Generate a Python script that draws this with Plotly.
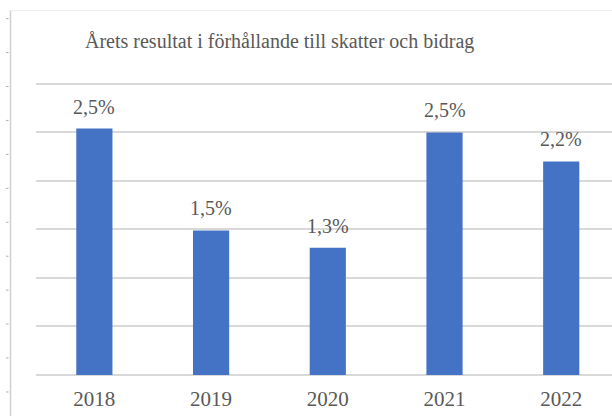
import plotly.graph_objects as go

# Result relative to tax revenue and grants, per year (percent)
years = ["2018", "2019", "2020", "2021", "2022"]
values = [2.54, 1.49, 1.31, 2.5, 2.2]
title_text = "Årets resultat i förhållande till skatter och bidrag"

BAR_COLOR = "#4472C4"
TEXT_COLOR = "#595959"
GRID_COLOR = "#D9D9D9"
FONT = "Liberation Serif, Times New Roman, serif"

W, H = 612, 416
ML, MR, MT, MB = 36, 0, 78.5, 41
PW, PH = W - ML - MR, H - MT - MB


def px_x(px):
    """Figure pixel column -> paper x (paper spans the plot area)."""
    return (px - ML) / PW


def px_y(py):
    """Figure pixel row (from top) -> paper y."""
    return (H - MB - py) / PH


fig = go.Figure()
fig.add_trace(go.Bar(
    x=list(range(len(years))),
    y=values,
    marker=dict(color=BAR_COLOR, line=dict(width=0)),
    width=0.31,
    hoverinfo="skip",
))

# value labels above each bar
for i, v in enumerate(values):
    fig.add_annotation(
        x=i, y=v, xref="x", yref="y",
        text=f"{v:.1f}%".replace(".", ","),
        showarrow=False, yanchor="bottom", yshift=9,
        font=dict(family=FONT, size=20, color=TEXT_COLOR),
    )

# chart title
fig.add_annotation(
    x=px_x(279.5), y=px_y(41), xref="paper", yref="paper",
    text=title_text, showarrow=False, xanchor="center", yanchor="middle",
    font=dict(family=FONT, size=20, color=TEXT_COLOR),
)

# frame of the chart box
fig.add_shape(type="line", xref="paper", yref="paper",
              x0=px_x(10.5), x1=px_x(10.5), y0=px_y(H), y1=px_y(10),
              line=dict(color="#D0D0D0", width=1.5))
fig.add_shape(type="line", xref="paper", yref="paper",
              x0=px_x(10.5), x1=px_x(W), y0=px_y(10), y1=px_y(10),
              line=dict(color="#EDEDED", width=1))
for k in range(12):
    yy = 18 + 34 * k
    fig.add_shape(type="line", xref="paper", yref="paper",
                  x0=px_x(6), x1=px_x(8.5), y0=px_y(yy), y1=px_y(yy),
                  line=dict(color="#B0B0B0", width=1))

fig.update_layout(
    width=W, height=H,
    margin=dict(l=ML, r=MR, t=MT, b=MB),
    paper_bgcolor="white", plot_bgcolor="white",
    showlegend=False,
    font=dict(family=FONT, color=TEXT_COLOR),
    xaxis=dict(
        tickmode="array", tickvals=list(range(len(years))), ticktext=years,
        range=[-0.5, 4.435], showgrid=False, zeroline=False,
        showline=False, ticks="", fixedrange=True,
        tickfont=dict(family=FONT, size=21, color=TEXT_COLOR),
        ticklabelstandoff=9,
    ),
    yaxis=dict(
        range=[0, 3.05], dtick=0.5, showticklabels=False,
        showgrid=True, gridcolor=GRID_COLOR, gridwidth=1.5,
        zeroline=True, zerolinecolor=GRID_COLOR, zerolinewidth=1.5,
        showline=False, fixedrange=True,
    ),
)

fig.write_html("out.html")
